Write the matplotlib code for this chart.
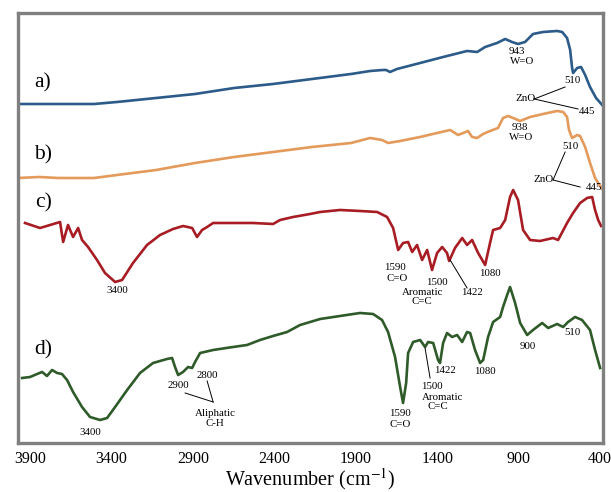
import matplotlib
matplotlib.use("Agg")
import matplotlib.pyplot as plt

plt.rcParams["font.family"] = ["Liberation Serif", "DejaVu Serif"]
plt.rcParams["mathtext.fontset"] = "stix"

# ── data (wavenumber in cm-1, stacked transmittance in arbitrary units) ──────

wn_a = [3974, 3728, 3507, 3366, 3126, 2887, 2647, 2408, 2169, 1929, 1812, 1733,
        1714, 1690, 1647, 1505, 1364, 1217, 1155, 1106, 1033, 983, 941, 904,
        861, 812, 750, 664, 633, 603, 584, 572, 566, 541, 517, 492, 462, 425, 382]
t_a = [339, 339, 339, 341, 345, 349, 355, 359, 364, 369, 372, 373,
       373, 371, 374, 380, 386, 392, 391, 396, 400, 404, 401, 399,
       401, 409, 411, 412, 411, 405, 393, 375, 370, 375, 376, 368, 356, 345, 337]

wn_b = [3974, 3845, 3728, 3507, 3366, 3126, 2887, 2647, 2408, 2169, 1929, 1812,
        1739, 1702, 1628, 1505, 1401, 1321, 1272, 1241, 1211, 1186, 1155, 1119,
        1076, 1027, 996, 965, 934, 891, 830, 750, 664, 627, 603, 591, 572, 541,
        523, 492, 462, 431, 412, 382]
t_b = [265, 266, 265, 265, 268, 273, 280, 286, 291, 296, 300, 305,
       303, 300, 302, 306, 310, 313, 308, 310, 312, 306, 305, 309,
       312, 315, 325, 327, 325, 322, 326, 329, 332, 331, 326, 313, 305, 308,
       307, 296, 280, 265, 260, 253]

wn_c = [3931, 3839, 3777, 3716, 3697, 3667, 3636, 3605, 3581, 3544, 3489, 3440,
        3378, 3335, 3268, 3182, 3102, 3022, 2961, 2905, 2875, 2844, 2813, 2776,
        2654, 2531, 2408, 2365, 2285, 2181, 2119, 1997, 1874, 1769, 1708, 1671,
        1640, 1610, 1579, 1554, 1524, 1493, 1462, 1432, 1401, 1370, 1340, 1327,
        1291, 1247, 1217, 1186, 1149, 1106, 1076, 1057, 1014, 983, 953, 934,
        904, 873, 830, 769, 689, 658, 603, 566, 523, 480, 449, 431, 412, 394]
t_c = [220, 215, 218, 221, 201, 218, 206, 215, 203, 196, 183, 170,
       161, 163, 180, 198, 208, 214, 217, 215, 206, 213, 216, 220,
       220, 220, 219, 223, 226, 229, 231, 233, 232, 231, 226, 215,
       193, 200, 201, 191, 198, 183, 193, 173, 190, 196, 190, 182,
       195, 205, 198, 203, 190, 178, 200, 213, 215, 223, 246, 253,
       243, 213, 203, 202, 205, 203, 220, 230, 240, 245, 246, 233, 223, 217]

wn_d = [3949, 3900, 3857, 3826, 3796, 3765, 3734, 3704, 3673, 3636, 3581, 3532,
        3470, 3427, 3378, 3304, 3225, 3145, 3059, 3028, 3010, 2991, 2961, 2930,
        2905, 2887, 2856, 2776, 2654, 2568, 2488, 2408, 2322, 2242, 2119, 1997,
        1874, 1794, 1739, 1702, 1659, 1628, 1610, 1591, 1579, 1548, 1505, 1475,
        1456, 1425, 1395, 1383, 1364, 1340, 1309, 1278, 1247, 1217, 1198, 1168,
        1137, 1118, 1088, 1057, 1014, 996, 971, 953, 922, 891, 848, 812, 756,
        719, 664, 627, 597, 554, 511, 462, 431, 400]
t_d = [65, 66, 69, 71, 67, 73, 70, 69, 63, 51, 36, 26,
       23, 25, 36, 53, 70, 80, 84, 85, 76, 68, 71, 76,
       75, 81, 90, 93, 96, 98, 103, 107, 111, 118, 124, 127,
       130, 129, 123, 111, 86, 56, 40, 60, 90, 101, 103, 96,
       101, 100, 83, 80, 100, 110, 106, 108, 101, 111, 110, 93,
       80, 83, 106, 121, 126, 136, 148, 156, 140, 120, 108, 113, 120,
       115, 119, 116, 121, 126, 123, 113, 93, 75]

tick_values = [3900, 3400, 2900, 2400, 1900, 1400, 900, 400]

colors = {"a": "#2c5b8a", "b": "#e39a5b", "c": "#a81c24", "d": "#2f5a29"}

# ── figure ────────────────────────────────────────────────────────────────────

fig = plt.figure(figsize=(6.11, 4.92), dpi=100)
ax = fig.add_axes([0.0295, 0.0996, 0.9575, 0.874])

ax.plot(wn_a, t_a, color=colors["a"], linewidth=1.9)
ax.plot(wn_b, t_b, color=colors["b"], linewidth=1.9)
ax.plot(wn_c, t_c, color=colors["c"], linewidth=1.9)
ax.plot(wn_d, t_d, color=colors["d"], linewidth=1.9)

ax.set_xlim(3974, 382)
ax.set_ylim(0, 430)
ax.set_xticks(tick_values)
ax.set_xticklabels([str(v) for v in tick_values])
ax.set_yticks([])
ax.tick_params(axis="x", length=0, pad=6, labelsize=11.5)
ax.set_xlabel("Wavenumber (cm$^{-1}$)", fontsize=14.5, labelpad=-1)
for sp in ax.spines.values():
    sp.set_color("#808080")
    sp.set_linewidth(2.4)

# panel letters
for lab, y in [("a)", 360), ("b)", 288), ("c)", 240), ("d)", 93)]:
    ax.text(3820, y, lab, fontsize=15.5, ha="center", va="center")

fs = 7.8
def note(x, y, s):
    ax.text(x, y, s, fontsize=fs, ha="center", va="center")

def link(x0, y0, x1, y1):
    ax.plot([x0, x1], [y0, y1], color="black", linewidth=0.7)

# a) annotations
note(910, 391, "943")
note(879, 381, "W=O")
note(572, 362, "510")
note(860, 344, "ZnO")
note(480, 331, "445")
link(805, 344, 615, 356)
link(805, 344, 535, 334)

# b) annotations
note(891, 315, "938")
note(885, 305, "W=O")
note(584, 296, "510")
note(745, 263, "ZnO")
note(437, 255, "445")
link(689, 263, 615, 291)
link(689, 263, 523, 256)

# c) annotations
note(3366, 152, "3400")
note(1659, 175, "1590")
note(1647, 164, "C=O")
note(1401, 160, "1500")
note(1493, 150, "Aromatic")
note(1186, 150, "1422")
note(1493, 141, "C=C")
note(1076, 169, "1080")
link(1321, 183, 1217, 155)

# d) annotations
note(3532, 10, "3400")
note(2991, 57, "2900")
note(2813, 67, "2800")
link(2948, 50, 2776, 41)
link(2813, 62, 2776, 41)
note(2764, 29, "Aliphatic")
note(2764, 19, "C-H")
note(1628, 29, "1590")
note(1628, 18, "C=O")
note(1432, 56, "1500")
note(1370, 45, "Aromatic")
note(1395, 36, "C=C")
note(1350, 72, "1422")
link(1475, 95, 1444, 65)
note(1106, 71, "1080")
note(842, 96, "900")
note(572, 110, "510")

fig.savefig("out.png", dpi=100)
